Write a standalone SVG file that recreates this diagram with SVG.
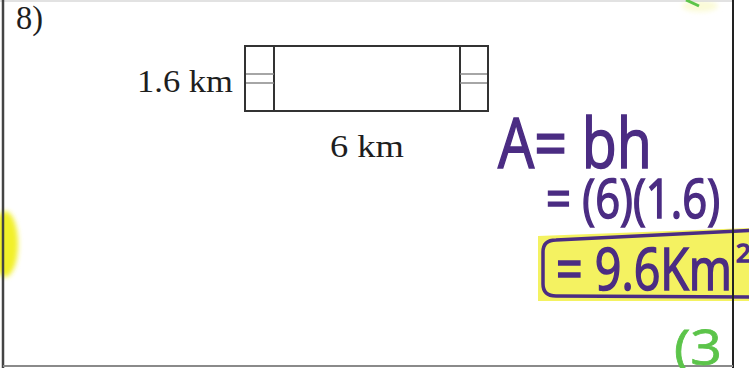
<svg xmlns="http://www.w3.org/2000/svg" width="749" height="368" viewBox="0 0 749 368">
  <style>
    .print { font-family: "Liberation Serif", "Times New Roman", serif; fill: #1e1e1e; }
    .hand { font-family: "Open Sans", "DejaVu Sans", sans-serif; fill: #4b2c83; stroke: #4b2c83; stroke-width: 1.6; }
    .green { font-family: "Open Sans", "DejaVu Sans", sans-serif; fill: #5cc44a; stroke: #5cc44a; stroke-width: 0.8; }
    .shape { fill: none; stroke: #333; stroke-width: 2; }
    .tick { fill: none; stroke: #888; stroke-width: 1.5; }
  </style>
  <defs>
    <filter id="soft" x="-50%" y="-50%" width="200%" height="200%">
      <feGaussianBlur stdDeviation="2.5"/>
    </filter>
  </defs>
  <rect x="0" y="0" width="749" height="368" fill="#ffffff"/>

  <!-- highlights -->
  <g id="highlights">
    <ellipse cx="5" cy="244" rx="13" ry="33" fill="#f2f02a" filter="url(#soft)"/>
    <path d="M 538,236 L 749,228 L 749,301 L 538,301 Z" fill="#f3f158" opacity="0.95"/>
    <ellipse cx="700" cy="6" rx="18" ry="6" fill="#fbfbd8" filter="url(#soft)"/>
  </g>

  <!-- frame -->
  <g id="frame">
    <line x1="0" y1="1" x2="733" y2="1" stroke="#d8d8d8" stroke-width="1.5"/>
    <line x1="3" y1="0" x2="3" y2="368" stroke="#444" stroke-width="2.5"/>
    <line x1="733" y1="0" x2="733" y2="368" stroke="#222" stroke-width="2"/>
    <line x1="3" y1="366" x2="733" y2="366" stroke="#8a8a8a" stroke-width="2"/>
  </g>

  <g id="label-8">
    <text class="print" x="16" y="29" font-size="33" textLength="27" lengthAdjust="spacingAndGlyphs">8)</text>
  </g>

  <g id="rectangle">
    <rect class="shape" x="245" y="46" width="243" height="65"/>
    <line class="shape" x1="274" y1="46" x2="274" y2="111"/>
    <line class="shape" x1="460" y1="46" x2="460" y2="111"/>
    <line class="tick" x1="246" y1="74" x2="274" y2="74"/>
    <line class="tick" x1="246" y1="83" x2="274" y2="83"/>
    <line class="tick" x1="460" y1="74" x2="487" y2="74"/>
    <line class="tick" x1="460" y1="83" x2="487" y2="83"/>
  </g>

  <g id="label-height">
    <text class="print" x="137" y="92" font-size="31" textLength="96" lengthAdjust="spacingAndGlyphs">1.6 km</text>
  </g>
  <g id="label-base">
    <text class="print" x="330" y="157" font-size="31" textLength="74" lengthAdjust="spacingAndGlyphs">6 km</text>
  </g>

  <g id="work">
    <text class="hand" x="498" y="168" font-size="70" textLength="154" lengthAdjust="spacingAndGlyphs">A= bh</text>
    <text class="hand" x="546" y="218" font-size="54" textLength="174" lengthAdjust="spacingAndGlyphs">= (6)(1.6)</text>
    <path d="M 760,230 L 556,240 Q 543,240 543,252 L 543,284 Q 543,296 556,296 L 760,297" fill="none" stroke="#4b2c83" stroke-width="3.5"/>
    <text class="hand" x="556" y="290" font-size="58" textLength="176" lengthAdjust="spacingAndGlyphs">= 9.6Km</text>
    <text class="hand" x="736" y="262" font-size="26" stroke-width="1">2</text>
  </g>

  <g id="score">
    <path d="M 686,0 L 699,6" stroke="#5cc44a" stroke-width="3" fill="none"/>
    <text class="green" x="674" y="365" font-size="50" textLength="48" lengthAdjust="spacingAndGlyphs">(3</text>
  </g>

  <!-- frame line drawn over highlight -->
  <g id="frame-over">
    <line x1="733" y1="225" x2="733" y2="305" stroke="#222" stroke-width="2"/>
  </g>
</svg>
